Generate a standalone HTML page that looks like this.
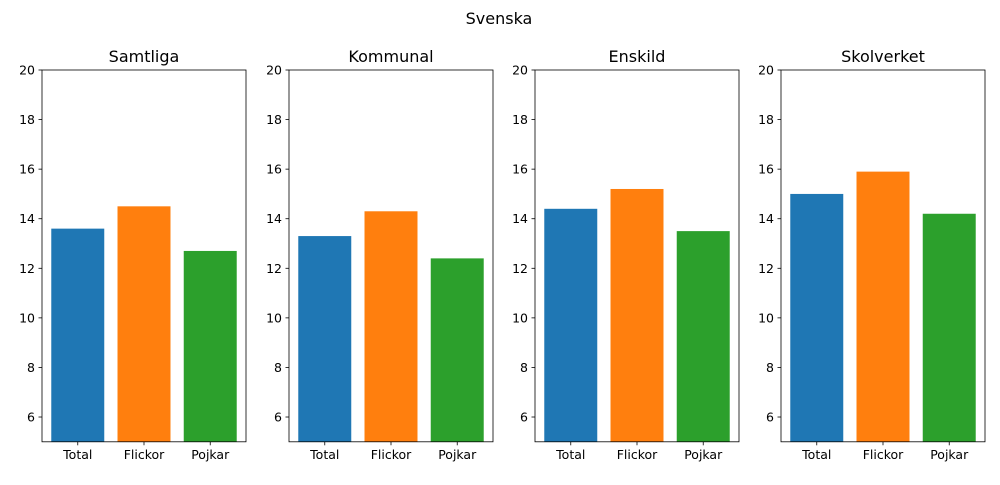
<!DOCTYPE html>
<html><head><meta charset="utf-8"><style>
body{margin:0;background:#fff;font-family:"Liberation Sans","DejaVu Sans",sans-serif;}
svg text{font-family:"DejaVu Sans","Liberation Sans",sans-serif;}
</style></head><body>
<svg id="chart" width="1000" height="480" xmlns="http://www.w3.org/2000/svg">
<text x="499" y="24" font-size="16" text-anchor="middle">Svenska</text>
</svg>
<script>
const panels = ["Samtliga","Kommunal","Enskild","Skolverket"];
const categories = ["Total","Flickor","Pojkar"];
const valuesSamtliga = [13.6, 14.5, 12.7];
const valuesKommunal = [13.3, 14.3, 12.4];
const valuesEnskild = [14.4, 15.2, 13.5];
const valuesSkolverket = [15.0, 15.9, 14.2];
const yTicks = [6, 8, 10, 12, 14, 16, 18, 20];
const allValues = [valuesSamtliga, valuesKommunal, valuesEnskild, valuesSkolverket];
const colors = ["#1f77b4","#ff7f0e","#2ca02c"];
const NS = "http://www.w3.org/2000/svg";
const svg = document.getElementById("chart");
const lefts = [42, 289, 535, 781];
const W = 204, top0 = 70, bot = 441.8, yMin = 5, yMax = 20;
function mk(tag, attrs, parent){const e=document.createElementNS(NS,tag);for(const k in attrs)e.setAttribute(k,attrs[k]);(parent||svg).appendChild(e);return e;}
function yS(v){return bot-(v-yMin)/(yMax-yMin)*(bot-top0);}
panels.forEach((p, pi) => {
  const L = lefts[pi];
  const g = mk("g", {});
  
  
  const xS = x => L + (x + 0.54) / 3.08 * W;
  allValues[pi].forEach((v, i) => {
    const r = mk("rect", {x: xS(i - 0.4), y: yS(v), width: xS(i + 0.4) - xS(i - 0.4), height: bot - yS(v), fill: colors[i]}, g);
    
    
    mk("line", {x1: xS(i), x2: xS(i), y1: bot, y2: bot + 3.5, stroke: "#000", "stroke-width": 0.8}, g);
    const t = mk("text", {x: xS(i), y: bot + 17, "font-size": 12.5, "text-anchor": "middle"}, g);
    t.textContent = categories[i];
    
    
  });
  yTicks.forEach(tv => {
    const y = yS(tv);
    mk("line", {x1: L - 3.5, x2: L, y1: y, y2: y, stroke: "#000", "stroke-width": 0.8}, g);
    const t = mk("text", {x: L - 7, y: y + 4.5, "font-size": 12.5, "text-anchor": "end"}, g);
    t.textContent = tv;
    
    
  });
  const fr = mk("rect", {x: L, y: top0, width: W, height: bot - top0, fill: "none", stroke: "#000", "stroke-width": 0.8}, g);
  
  
  const tt = mk("text", {x: L + W / 2, y: 62, "font-size": 16, "text-anchor": "middle"}, g);
  tt.textContent = p;
  
  
});
</script>
</body></html>
